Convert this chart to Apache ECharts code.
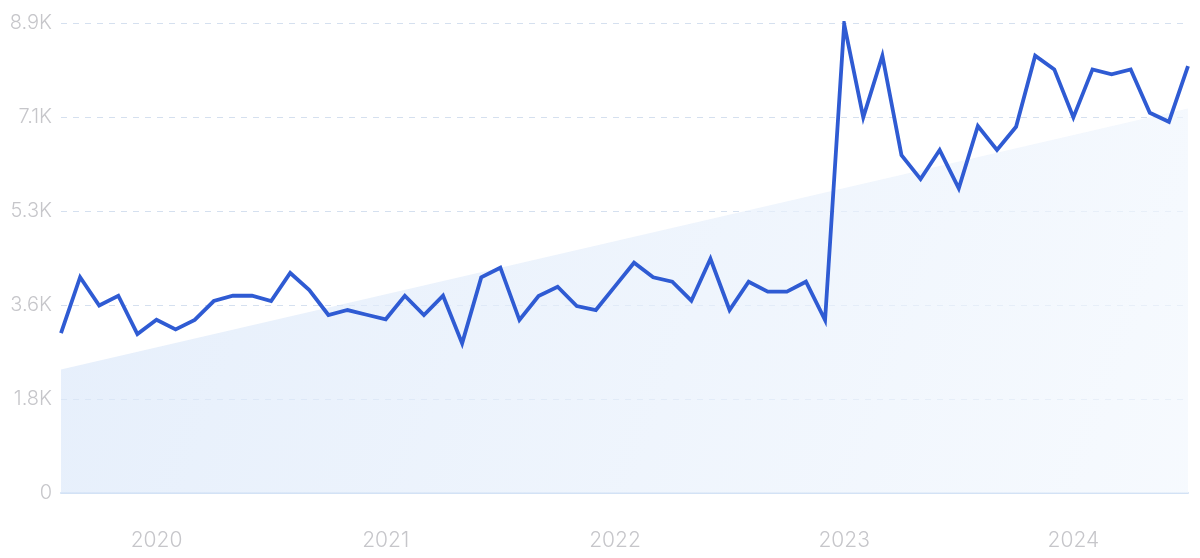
<!DOCTYPE html>
<html>
<head>
<meta charset="utf-8">
<script src="https://cdn.jsdelivr.net/npm/echarts@6/dist/echarts.min.js"></script>
<style>
html,body{margin:0;padding:0;background:#fff;}
#chart{width:1200px;height:558px;}
</style>
</head>
<body>
<div id="chart"></div>
<script>
// Monthly categories Aug 2019 .. Jul 2024
const months = [
  '2019-08','2019-09','2019-10','2019-11','2019-12',
  '2020-01','2020-02','2020-03','2020-04','2020-05','2020-06','2020-07','2020-08','2020-09','2020-10','2020-11','2020-12',
  '2021-01','2021-02','2021-03','2021-04','2021-05','2021-06','2021-07','2021-08','2021-09','2021-10','2021-11','2021-12',
  '2022-01','2022-02','2022-03','2022-04','2022-05','2022-06','2022-07','2022-08','2022-09','2022-10','2022-11','2022-12',
  '2023-01','2023-02','2023-03','2023-04','2023-05','2023-06','2023-07','2023-08','2023-09','2023-10','2023-11','2023-12',
  '2024-01','2024-02','2024-03','2024-04','2024-05','2024-06','2024-07'
];
const volume = [
  3020,4075,3540,3725,3000,3270,3090,3270,3625,3725,3725,3625,4155,
  3833,3361,3455,3366,3280,3725,3361,3725,2826,4072,4254,3266,3719,3895,
  3531,3455,3902,4348,4072,3990,3631,4424,3455,3990,3801,3801,3990,3266,
  8855,7093,8257,6381,5928,6476,5752,6929,6476,6916,8257,7999,7093,7999,
  7905,7999,7180,7010,8062
];
// trend line endpoints (first and last month)
const trendStart = 2330;
const trendEnd = 7260;
const yTickValues = [0,1775,3550,5325,7100,8875];
const yTickLabels = ['0','1.8K','3.6K','5.3K','7.1K','8.9K'];

const chart = echarts.init(document.getElementById('chart'));
const FONT = 'Inter, "Noto Sans", sans-serif';
chart.setOption({
  animation:false,
  grid:{left:61,right:12,top:23,bottom:65},
  xAxis:{
    type:'category',
    data:months,
    boundaryGap:false,
    axisLine:{show:true,lineStyle:{color:'#d3e2f5',width:2}},
    axisTick:{show:false},
    axisLabel:{
      interval:(i,v)=>v.endsWith('-01'),
      formatter:v=>v.slice(0,4),
      color:'#c6c6ca',fontSize:21,fontWeight:300,fontFamily:FONT,margin:37
    },
    splitLine:{show:false}
  },
  yAxis:{
    type:'value',
    min:0,max:8875,interval:1775,
    axisLine:{show:false},
    axisTick:{show:false},
    axisLabel:{
      formatter:v=>{const i=yTickValues.indexOf(v);return i>=0?yTickLabels[i]:'';},
      color:'#c6c6ca',fontSize:20,fontWeight:300,fontFamily:FONT,margin:9
    },
    splitLine:{show:true,lineStyle:{color:'#d5e0ef',type:[6,6],width:1}}
  },
  series:[
    {
      type:'line',
      data:[[0,trendStart],[months.length-1,trendEnd]],
      symbol:'none',
      lineStyle:{width:0,opacity:0},
      areaStyle:{
        color:new echarts.graphic.LinearGradient(0,0,1,1,[
          {offset:0,color:'#dae7f9'},
          {offset:1,color:'#f2f7fd'}
        ])
      },
      z:1,silent:true
    },
    {
      type:'line',
      data:volume,
      symbol:'none',
      lineStyle:{color:'#2f5bd3',width:3.8,join:'miter'},
      z:3
    }
  ]
});
</script>
</body>
</html>
